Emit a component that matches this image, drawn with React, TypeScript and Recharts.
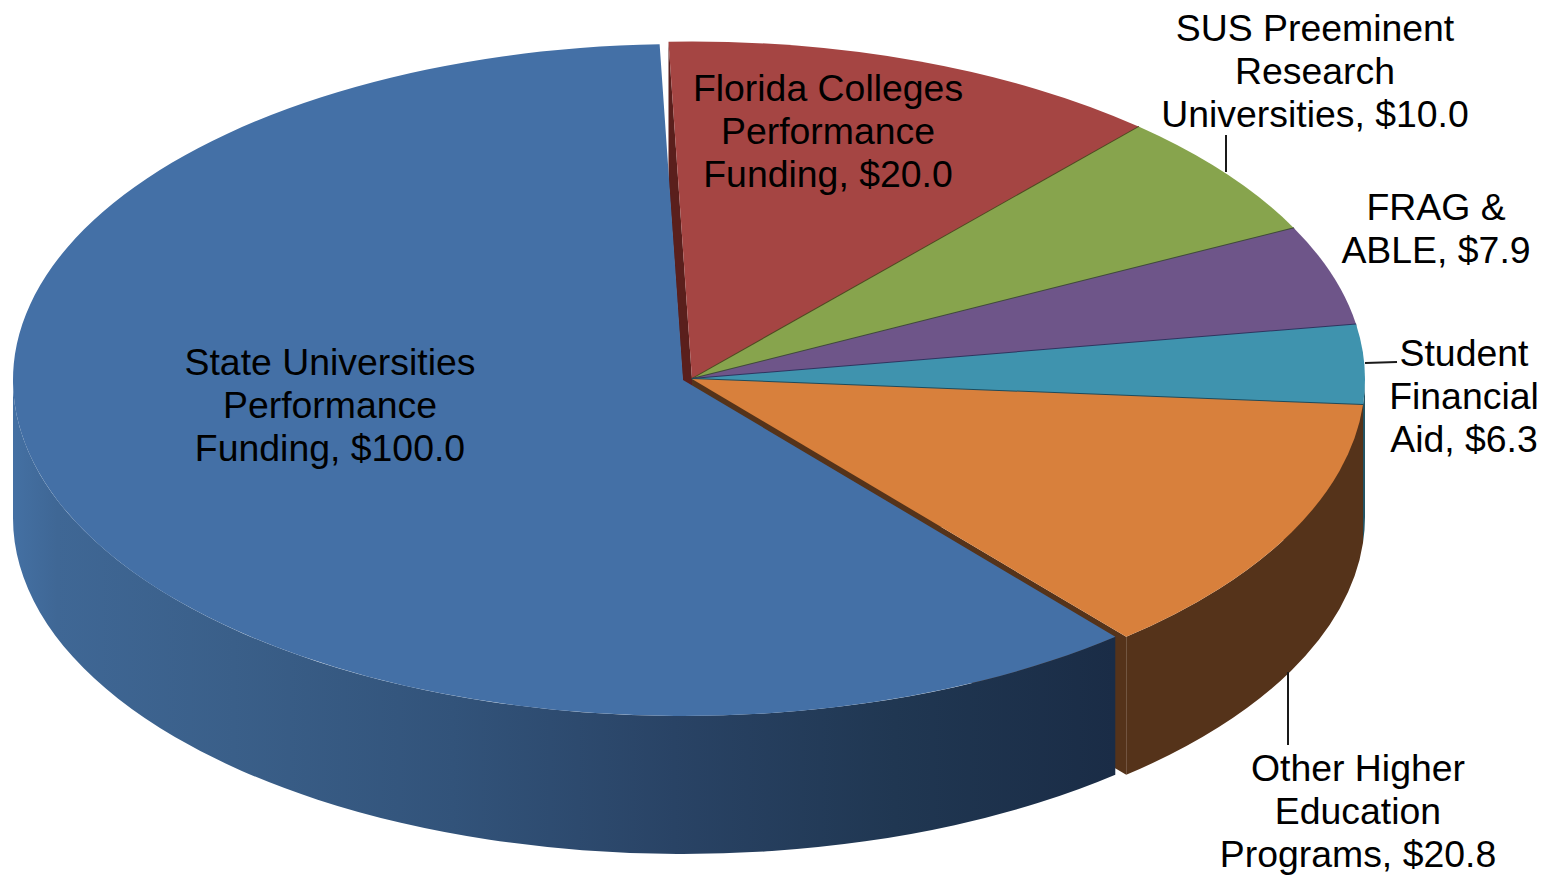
import React from 'react';
import { PieChart, Pie } from 'recharts';

const programs = [
  'Florida Colleges Performance Funding',
  'SUS Preeminent Research Universities',
  'FRAG & ABLE',
  'Student Financial Aid',
  'Other Higher Education Programs',
  'State Universities Performance Funding',
];
const amounts = [20.0, 10.0, 7.9, 6.3, 20.8, 100.0];
const labelLines = [
  ['Florida Colleges', 'Performance', 'Funding, $20.0'],
  ['SUS Preeminent', 'Research', 'Universities, $10.0'],
  ['FRAG &', 'ABLE, $7.9'],
  ['Student', 'Financial', 'Aid, $6.3'],
  ['Other Higher', 'Education', 'Programs, $20.8'],
  ['State Universities', 'Performance', 'Funding, $100.0'],
];
const topColors = ['#a54543', '#87a44d', '#6e5589', '#3f93ae', '#d8803c', '#4470a6'];
const edgeColors = ['#4f4a22', '#3f4a3a', '#2f3560', '#1f4a5a', '#5a3518', '#1a2c46'];
const wallColors = ['#5a1f1c', '#4a5c2a', '#3e2f4e', '#235363', '#55331a', 'url(#stateWall)'];

// where each text block sits: centre x, first baseline, optional leader line
const labelSpots = [
  { x: 828, y: 101 },
  { x: 1315, y: 41, leader: [1226, 135, 1226, 172] },
  { x: 1436, y: 220 },
  { x: 1464, y: 366, leader: [1365, 363, 1397, 362] },
  { x: 1358, y: 781, leader: [1288, 672, 1288, 745] },
  { x: 330, y: 375 },
];

const data = programs.map((name, i) => ({ name, value: amounts[i] }));

const WIDTH = 1556;
const HEIGHT = 875;
const CX = 692;
const CY = 379;
const RADIUS = 673;
const SQUASH = 337 / 672; // tilt of the disc
const DEPTH = 138;
// the big slice is pulled out to the left and sits a touch smaller
const EXPLODE_X = -9;
const EXPLODE_Y = 1;
const EXPLODE_R = -3;

const rad = (deg: number) => (deg * Math.PI) / 180;
const px = (cx: number, r: number, a: number) => cx + r * Math.cos(rad(a));
const py = (cy: number, r: number, a: number) => cy - r * SQUASH * Math.sin(rad(a));

const arcTo = (cx: number, cy: number, r: number, from: number, to: number) => {
  const large = Math.abs(from - to) > 180 ? 1 : 0;
  return `A ${r} ${r * SQUASH} 0 ${large} 1 ${px(cx, r, to)} ${py(cy, r, to)}`;
};

const WallSlice = (props: any) => {
  const { cx, cy, outerRadius, startAngle, endAngle, index } = props;
  const isState = index === programs.length - 1;
  const x0 = isState ? cx + EXPLODE_X : cx;
  const y0 = isState ? cy + EXPLODE_Y : cy;
  const r = isState ? outerRadius + EXPLODE_R : outerRadius;
  const fill = wallColors[index];
  const from = Math.min(startAngle, 0);
  const to = Math.max(endAngle, -180);
  const radial = (a: number) =>
    `M ${x0} ${y0} L ${px(x0, r, a)} ${py(y0, r, a)} L ${px(x0, r, a)} ${py(y0, r, a) + DEPTH} L ${x0} ${y0 + DEPTH} Z`;
  return (
    <g>
      {isState && (
        <defs>
          <linearGradient id="stateWall" gradientUnits="userSpaceOnUse" x1={13} y1={0} x2={1115} y2={0}>
            <stop offset="0" stopColor="#4470a3" />
            <stop offset="0.04" stopColor="#3f6795" />
            <stop offset="0.2" stopColor="#3a5f89" />
            <stop offset="0.4" stopColor="#32537a" />
            <stop offset="0.6" stopColor="#294365" />
            <stop offset="0.8" stopColor="#203752" />
            <stop offset="1" stopColor="#1a2c46" />
          </linearGradient>
        </defs>
      )}
      {!isState && <path d={radial(startAngle)} fill={fill} />}
      {!isState && <path d={radial(endAngle)} fill={fill} />}
      {from > to && (
        <path
          d={`M ${px(x0, r, from)} ${py(y0, r, from)} ${arcTo(x0, y0, r, from, to)} L ${px(x0, r, to)} ${py(y0, r, to) + DEPTH} A ${r} ${r * SQUASH} 0 ${from - to > 180 ? 1 : 0} 0 ${px(x0, r, from)} ${py(y0, r, from) + DEPTH} Z`}
          fill={fill}
        />
      )}
    </g>
  );
};

const TopSlice = (props: any) => {
  const { cx, cy, outerRadius, startAngle, endAngle, index } = props;
  const isState = index === programs.length - 1;
  const x0 = isState ? cx + EXPLODE_X : cx;
  const y0 = isState ? cy + EXPLODE_Y : cy;
  const r = isState ? outerRadius + EXPLODE_R : outerRadius;
  return (
    <g>
      <path
        d={`M ${x0} ${y0} L ${px(x0, r, startAngle)} ${py(y0, r, startAngle)} ${arcTo(x0, y0, r, startAngle, endAngle)} Z`}
        fill={topColors[index]}
      />
      {index < 4 && (
        <line
          x1={x0}
          y1={y0}
          x2={px(x0, r, endAngle)}
          y2={py(y0, r, endAngle)}
          stroke={edgeColors[index]}
          strokeWidth={2}
        />
      )}
    </g>
  );
};

const renderLabel = ({ index }: any) => {
  const spot = labelSpots[index];
  return (
    <g key={programs[index]}>
      {spot.leader && (
        <line
          x1={spot.leader[0]}
          y1={spot.leader[1]}
          x2={spot.leader[2]}
          y2={spot.leader[3]}
          stroke="#1a1a1a"
          strokeWidth={2}
        />
      )}
      <text textAnchor="middle" fontFamily="'Liberation Sans', Arial, sans-serif" fontSize={37.4} fill="#000">
        {labelLines[index].map((line, i) => (
          <tspan key={line} x={spot.x} y={spot.y + i * 43}>
            {line}
          </tspan>
        ))}
      </text>
    </g>
  );
};

export default function App() {
  return (
    <div style={{ position: 'absolute', left: 0, top: 0, width: WIDTH, height: HEIGHT, background: '#fff' }}>
      <PieChart width={WIDTH} height={HEIGHT} margin={{ top: 0, right: 0, bottom: 0, left: 0 }}>
        <Pie
          data={data}
          dataKey="value"
          nameKey="name"
          cx={CX}
          cy={CY}
          outerRadius={RADIUS}
          startAngle={92}
          endAngle={-268}
          stroke="none"
          shape={WallSlice}
          isAnimationActive={false}
        />
        <Pie
          data={data}
          dataKey="value"
          nameKey="name"
          cx={CX}
          cy={CY}
          outerRadius={RADIUS}
          startAngle={92}
          endAngle={-268}
          stroke="none"
          shape={TopSlice}
          label={renderLabel}
          labelLine={false}
          isAnimationActive={false}
        />
      </PieChart>
    </div>
  );
}
